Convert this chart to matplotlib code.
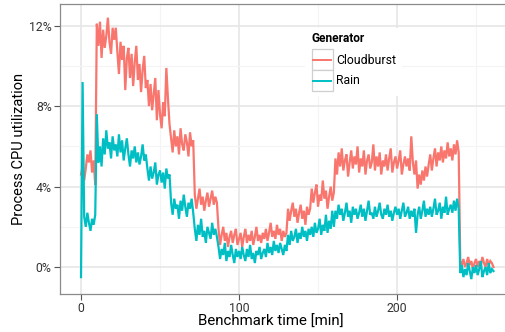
import numpy as np
import matplotlib
matplotlib.use("Agg")
import matplotlib.pyplot as plt
from matplotlib.patches import Rectangle
from matplotlib.lines import Line2D
from matplotlib.ticker import FixedLocator, FuncFormatter

plt.rcParams["font.family"] = ["Roboto", "DejaVu Sans"]

# Benchmark time in minutes, one sample per minute
time_min = np.arange(262)

# Process CPU utilization (%) for the Cloudburst generator
cloudburst = [
    4.6, 5.0, 4.3, 4.9, 5.6, 5.2, 5.8, 4.7, 5.3, 4.1,
    12.1, 11.0, 12.2, 10.4, 11.8, 10.9, 11.5, 12.4, 11.2, 10.6, 11.9, 11.3,
    11.9, 10.7, 9.6, 11.2, 10.3, 11.0, 8.8, 10.4,
    10.9, 9.4, 10.6, 9.0, 10.2, 11.0, 9.3, 10.1, 8.7, 9.8, 10.5, 8.9,
    9.3, 8.0, 9.1, 7.8, 8.6, 9.4, 7.3, 8.8, 7.6, 6.9, 8.2, 7.5, 9.9, 8.4, 7.1,
    6.4, 5.7, 6.8, 6.0, 6.5, 5.6, 6.9, 6.1, 5.8, 6.6, 6.2, 5.5, 6.7, 6.0, 6.3,
    3.6, 2.9, 3.4, 3.9, 3.1, 3.5, 2.8, 3.3, 3.7, 3.0, 3.4, 3.8, 3.1, 3.5, 3.2,
    1.9, 1.1, 1.6, 2.0, 1.3, 1.7, 1.0, 1.5, 1.8, 1.2, 1.6, 1.9, 1.1, 1.4,
    1.7, 1.0, 1.5, 1.9, 1.2, 1.6, 1.3, 1.8, 1.1, 1.5, 2.0, 1.3, 1.6, 1.2, 1.7,
    1.4, 1.9, 1.3, 1.7, 2.2, 1.5, 1.8, 1.4, 2.1, 1.6, 1.9, 1.3, 1.8, 1.5, 1.7,
    2.9, 2.3, 2.8, 3.2, 2.5, 2.9, 2.2, 2.7, 3.1, 2.4, 2.8, 2.1, 3.0, 2.6, 2.9,
    3.9, 3.2, 3.7, 4.1, 3.0, 3.6, 3.3, 4.3, 3.4, 3.8, 2.9, 3.5, 4.0, 3.3, 3.7,
    5.4, 4.6, 5.7, 5.0, 5.9, 4.8, 5.3, 5.6, 4.5, 5.2, 5.8, 4.9, 5.5, 5.1, 6.0,
    4.7, 5.4, 5.0, 5.8, 4.6, 5.3, 5.6, 4.9, 5.2, 6.1, 4.8, 5.5, 5.0, 5.7, 4.6,
    5.3, 5.0, 5.6, 4.8, 5.4, 5.9, 4.7, 5.2, 5.5, 4.9, 5.3, 5.8, 4.6, 5.1, 5.5,
    5.0, 5.4, 4.8, 6.5, 5.2, 4.6, 5.3,
    3.9, 4.6, 4.1, 4.8, 4.3, 5.0, 4.5,
    5.1, 5.6, 4.8, 5.4, 5.9, 5.0, 5.7, 5.3, 6.0, 5.2,
    5.8, 5.4, 6.2, 5.5, 5.9, 5.3, 6.1, 5.6, 6.3, 5.7,
    0.3, 0.1, 0.4, 0.0, 0.2, 0.5, 0.1, 0.3, -0.1, 0.2, 0.4,
    0.0, 0.3, 0.1, 0.5, 0.2, 0.0, 0.4, 0.1, 0.3, 0.2, 0.0,
]

# Process CPU utilization (%) for the Rain generator
rain = [
    -0.5, 9.2, 2.5, 2.0, 2.7, 2.2, 1.8, 2.4, 2.1, 2.6,
    7.6, 5.2, 6.0, 5.0, 6.4, 5.6, 6.8, 5.9, 6.2, 5.4, 6.5, 5.8,
    6.1, 5.5, 6.6, 5.7, 6.3, 5.3, 5.9, 6.4, 5.6, 5.0,
    5.8, 5.4, 6.0, 5.2, 5.7, 5.1, 5.5, 6.1, 5.3, 5.6,
    4.9, 4.3, 5.0, 4.4, 4.7, 5.2, 4.1, 4.6, 4.8, 4.2, 4.7, 3.9, 4.9, 4.4, 4.6,
    3.2, 2.6, 3.4, 2.9, 3.1, 2.4, 3.3, 2.8, 3.6, 3.0, 2.5, 3.2, 2.9, 3.4, 2.7,
    1.9, 1.3, 2.1, 1.6, 2.4, 1.5, 1.8, 1.2, 2.0, 1.7, 1.4, 2.2, 1.6, 1.9, 1.5,
    1.0, 0.4, 0.9, 0.6, 1.2, 0.3, 0.8, 0.5, 1.1, 0.6, 0.2, 0.9, 0.5, 0.8,
    0.4, 1.0, 0.6, 0.3, 0.9, 0.5, 1.1, 0.4, 0.7, 0.2, 0.8, 0.6, 1.0, 0.4, 0.7,
    0.9, 0.5, 1.2, 0.7, 1.0, 0.6, 1.3, 0.8, 1.1, 0.7, 1.2, 0.9, 0.6, 1.1, 0.8,
    1.6, 1.1, 1.8, 1.3, 1.5, 1.9, 1.2, 1.7, 1.4, 2.0, 1.5, 1.8, 1.3, 1.9, 1.6,
    2.0, 1.5, 2.2, 1.7, 1.9, 2.4, 1.6, 2.1, 1.8, 2.6, 1.7, 2.3, 1.9, 2.8, 2.0,
    2.8, 2.4, 3.1, 2.6, 2.9, 2.3, 2.7, 3.2, 2.5, 2.8, 2.2, 3.0, 2.6, 2.9, 2.4,
    2.7, 3.1, 2.5, 2.9, 2.3, 2.8, 3.3, 2.6, 2.7, 2.4, 3.0, 2.5, 2.8, 3.2, 2.6,
    2.4, 2.9, 2.6, 3.1, 2.5, 2.8, 2.3, 2.7, 3.0, 2.6, 2.9, 2.4, 2.8, 3.2, 2.5,
    2.7, 3.0, 2.4, 2.8, 2.5, 2.9, 1.7, 2.6, 3.0, 2.4, 2.8, 3.3, 2.5, 2.9, 2.6,
    3.0, 2.5, 2.9, 3.4, 2.6, 2.8, 3.2, 2.4, 3.0, 2.7, 3.5, 2.6, 2.9, 3.1, 2.7,
    3.3, 2.8, 3.4, 2.9,
    -0.3, 0.1, -0.5, -0.1, -0.4, 0.2, -0.2, -0.6, 0.0, -0.3, 0.1,
    -0.4, -0.1, 0.3, -0.5, -0.2, 0.0, -0.4, 0.2, -0.3, -0.1, -0.2,
]

series_names = ["Cloudburst", "Rain"]
series_colors = ["#F8766D", "#00BFC4"]

x_major = [0, 100, 200]
x_minor = [50, 150, 250]
y_major = [0, 4, 8, 12]
y_minor = [2, 6, 10]

W, H = 506, 332
fig = plt.figure(figsize=(W / 100, H / 100), dpi=100)
fig.patch.set_facecolor("white")

# panel in pixel units: left 60, top 4, bottom 294, right edge runs past the canvas
px_l, px_t, px_b, px_r = 60, 4, 294, 514
ax = fig.add_axes([px_l / W, (H - px_b) / H, (px_r - px_l) / W, (px_b - px_t) / H])
ax.set_facecolor("white")

for vals, col in zip([cloudburst, rain], series_colors):
    ax.plot(time_min, vals, color=col, lw=1.6, solid_joinstyle="miter", zorder=3)

ax.set_xlim(-13.3, 274.0)
ax.set_ylim(-1.34, 13.08)

ax.xaxis.set_major_locator(FixedLocator(x_major))
ax.xaxis.set_minor_locator(FixedLocator(x_minor))
ax.yaxis.set_major_locator(FixedLocator(y_major))
ax.yaxis.set_minor_locator(FixedLocator(y_minor))
ax.yaxis.set_major_formatter(FuncFormatter(lambda v, p: f"{v:.0f}%"))

ax.grid(which="major", color="#e6e6e6", lw=1.2, zorder=0)
ax.grid(which="minor", color="#f4f4f4", lw=0.8, zorder=0)
ax.set_axisbelow(True)

for side in ["left", "top", "bottom"]:
    ax.spines[side].set_color("#8a8a8a")
    ax.spines[side].set_linewidth(0.9)
ax.spines["right"].set_visible(False)

ax.tick_params(which="major", length=4, width=0.8, color="#555555",
               labelsize=8.8, labelcolor="#333333", pad=2)
ax.tick_params(which="minor", length=0)

ax.set_ylabel("Process CPU utilization", fontsize=10.5, color="black")
ax.set_xlabel("Benchmark time [min]", fontsize=10.8, color="black")
ax.yaxis.set_label_coords((19 - px_l) / (px_r - px_l), 0.5)
ax.xaxis.set_label_coords((271 - px_l) / (px_r - px_l), -(322 - px_b) / (px_b - px_t))
ax.xaxis.label.set_va("center")
ax.yaxis.label.set_va("center")

# legend box placed inside the panel, drawn in its own pixel frame
lg_l, lg_t, lg_r, lg_b = 305, 28, 402, 96
lg = fig.add_axes([lg_l / W, (H - lg_b) / H, (lg_r - lg_l) / W, (lg_b - lg_t) / H])
lg.set_xlim(0, lg_r - lg_l)
lg.set_ylim(lg_b - lg_t, 0)
lg.axis("off")
lg.add_patch(Rectangle((0, 0), lg_r - lg_l, lg_b - lg_t, facecolor="white",
                       edgecolor="none", zorder=0))
lg.text(7, 11, "Generator", fontsize=8.6, fontweight="bold", va="center",
        ha="left", color="black")
for i, (name, col) in enumerate(zip(series_names, series_colors)):
    top = 21 + 21 * i
    lg.add_patch(Rectangle((7, top), 21, 21, facecolor="white",
                           edgecolor="#cfcfcf", lw=0.9, zorder=1))
    lg.add_line(Line2D([8.5, 26.5], [top + 10.5, top + 10.5], color=col,
                       lw=1.4, zorder=2))
    lg.text(31, top + 11, name, fontsize=8.8, va="center", ha="left",
            color="black")

fig.savefig("out.png", dpi=100)
